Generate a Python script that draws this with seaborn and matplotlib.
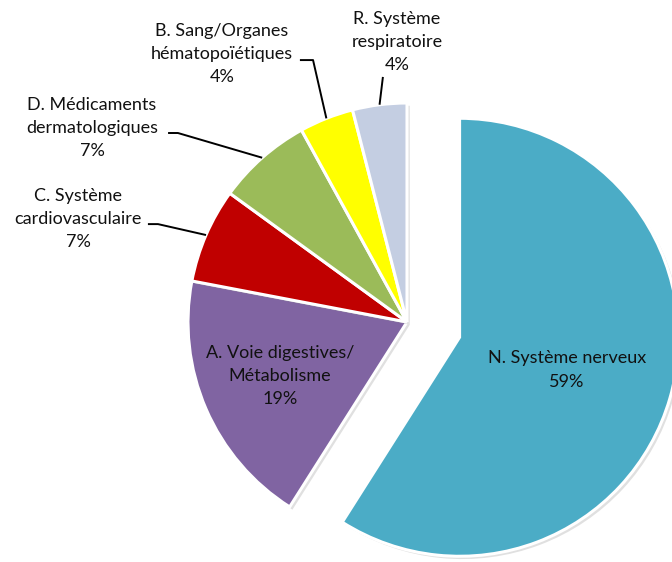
import numpy as np
import matplotlib
matplotlib.use("Agg")
import matplotlib.pyplot as plt
import matplotlib.patheffects as pe
import seaborn as sns

# ATC groups and their share of prescriptions (%), clockwise from 12 o'clock
categories = ["N. Système nerveux", "A. Voie digestives/\nMétabolisme",
              "C. Système\ncardiovasculaire", "D. Médicaments\ndermatologiques",
              "B. Sang/Organes\nhématopoïétiques", "R. Système\nrespiratoire"]
shares = [59, 19, 7, 7, 4, 4]
colors = ["#4BACC6", "#8064A2", "#C00000", "#9BBB59", "#FFFF00", "#C4CEE2"]
explode = [0.25, 0, 0, 0, 0, 0]

sns.set_theme(style="white")
plt.rcParams["font.family"] = ["Lato", "DejaVu Sans"]

W, H, DPI = 672, 562, 100
fig = plt.figure(figsize=(W / DPI, H / DPI), dpi=DPI)
ax = fig.add_axes([0, 0, 1, 1])

wedges, _ = ax.pie(
    shares, colors=colors, explode=explode, startangle=90, counterclock=False,
    radius=1.0,
    wedgeprops=dict(edgecolor="white", linewidth=2.2),
)
for w in wedges:
    w.set_path_effects([pe.SimplePatchShadow(offset=(2, -2), shadow_rgbFace="0.6", alpha=0.3),
                        pe.Normal()])

# Frame: one data unit = 219 px, pie centre at (407, 322) px from top-left
unit, cx, cy = 219.0, 407.0, 322.0
ax.set_xlim(-cx / unit, (W - cx) / unit)
ax.set_ylim(-(H - cy) / unit, cy / unit)
ax.set_aspect("auto")
ax.axis("off")

fs = 13
ls = 1.55

def label(i):
    return f"{categories[i]}\n{shares[i]}%"

# In-slice labels
ax.text(0.731, -0.219, label(0), ha="center", va="center",
        fontsize=fs, color="#111111", linespacing=ls)
ax.text(-0.580, -0.247, label(1), ha="center", va="center",
        fontsize=fs, color="#111111", linespacing=ls)

# Outside labels with leader lines: (text pos, knee, horizontal end)
outside = {
    2: ((-1.502, 0.470), (-1.137, 0.447), (-1.183, 0.447)),
    3: ((-1.438, 0.886), (-1.046, 0.863), (-1.091, 0.863)),
    4: ((-0.845, 1.224), (-0.429, 1.196), (-0.489, 1.196)),
    5: ((-0.046, 1.279), (-0.110, 1.119), None),
}
cum = np.cumsum([0] + shares)
for i, (tpos, knee, hend) in outside.items():
    mid = 90 - 360 * (cum[i] + shares[i] / 2) / 100
    px, py = np.cos(np.radians(mid)), np.sin(np.radians(mid))
    xs, ys = [px, knee[0]], [py, knee[1]]
    if hend is not None:
        xs.append(hend[0]); ys.append(hend[1])
    ax.plot(xs, ys, color="black", lw=1.4, solid_capstyle="butt", zorder=1)
    ax.text(tpos[0], tpos[1], label(i), ha="center", va="center",
            fontsize=fs, color="#111111", linespacing=ls)

fig.savefig("out.png", dpi=DPI)
